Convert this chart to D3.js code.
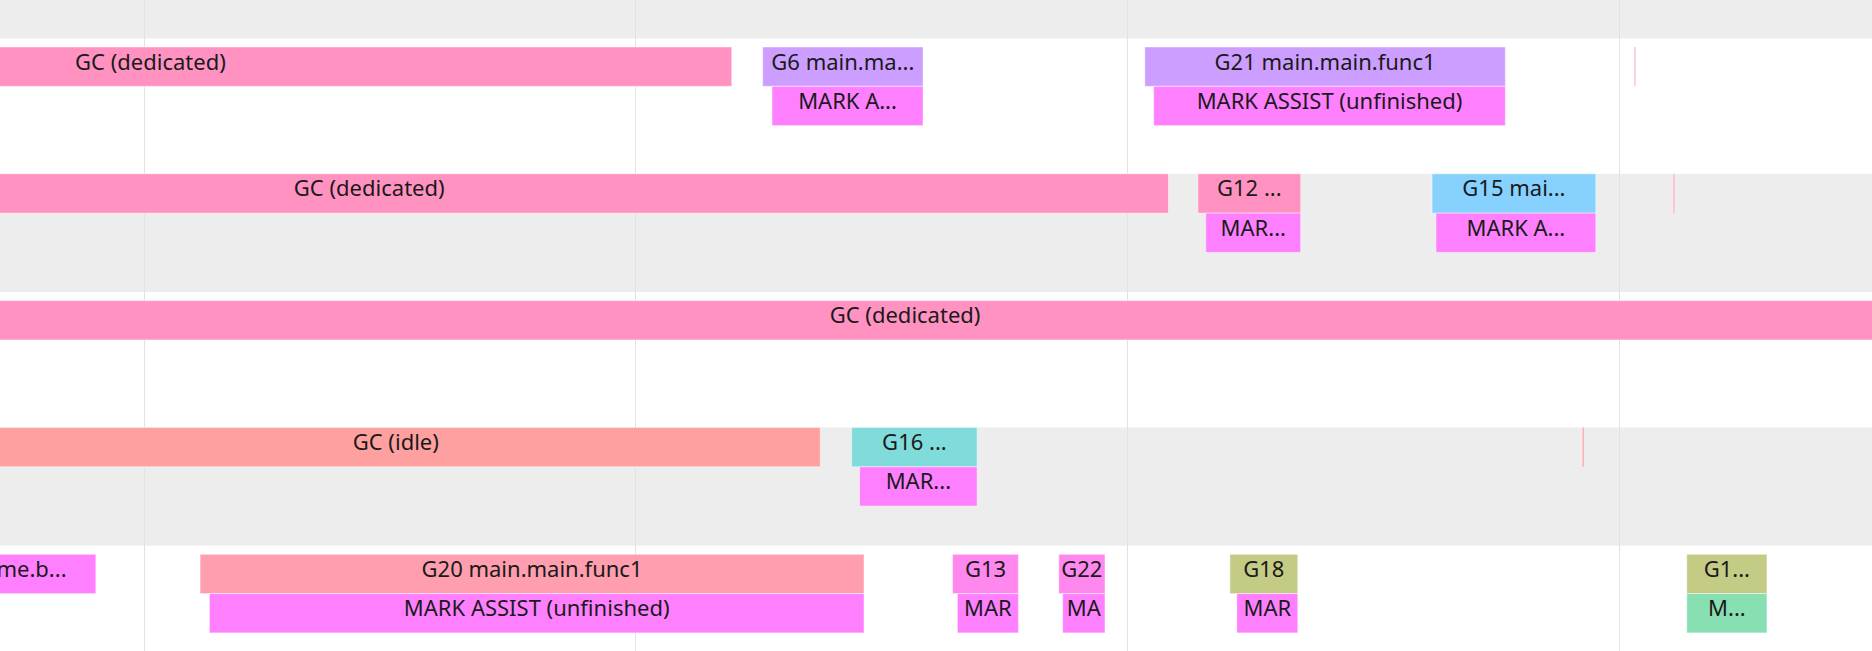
<!DOCTYPE html>
<html>
<head>
<meta charset="utf-8">
<script src="https://cdn.jsdelivr.net/npm/d3@7"></script>
<style>
  html, body { margin: 0; padding: 0; background: #fff; overflow: hidden; }
  text { font-family: "Noto Sans", "Open Sans", sans-serif; }
</style>
</head>
<body>
<svg id="trace" width="1872" height="651"></svg>
<script>
// time in ms (grid lines every 1 ms)
const viewStart = -0.2918;
const viewEnd = 3.5146;
const gridTicks = [0, 1, 2, 3];

const sliceLabels = [
    "GC (dedicated)", "G6 main.ma...", "MARK A...", "G21 main.main.func1", "MARK ASSIST (unfinished)", "",
    "GC (dedicated)", "G12 ...", "MAR...", "G15 mai...", "MARK A...", "",
    "GC (dedicated)",
    "GC (idle)", "G16 ...", "MAR...", "",
    "runtime.b...", "G20 main.main.func1", "MARK ASSIST (unfinished)", "G13", "MAR", "G22", "MA", "G18", "MAR", "G1...", "M..."
];
const sliceLanes = [
    0, 0, 0, 0, 0, 0,
    1, 1, 1, 1, 1, 1,
    2,
    3, 3, 3, 3,
    4, 4, 4, 4, 4, 4, 4, 4, 4, 4, 4
];
const sliceDepths = [
    0, 0, 1, 0, 1, 0,
    0, 0, 1, 0, 1, 0,
    0,
    0, 0, 1, 0,
    0, 0, 1, 0, 1, 0, 1, 0, 1, 0, 1
];
const sliceStarts = [
    -1.168, 1.259, 1.278, 2.036, 2.054, 3.031,
    -1.166, 2.144, 2.160, 2.620, 2.628, 3.110,
    -1.166,
    -0.350, 1.440, 1.456, 2.926,
    -0.460, 0.115, 0.134, 1.645, 1.655, 1.861, 1.869, 2.209, 2.223, 3.138, 3.138
];
const sliceEnds = [
    1.196, 1.585, 1.585, 2.769, 2.769, 3.034,
    2.084, 2.353, 2.353, 2.953, 2.953, 3.114,
    4.263,
    1.376, 1.695, 1.695, 2.929,
    -0.097, 1.465, 1.465, 1.779, 1.779, 1.955, 1.955, 2.347, 2.347, 3.301, 3.301
];
const sliceKinds = [
    "gc", "lavender", "assist", "lavender", "assist", "gcThin",
    "gc", "gc", "assist", "blue", "assist", "gcThin",
    "gc",
    "idle", "teal", "assist", "idleThin",
    "assist", "rose", "assist", "orchid", "assist", "orchid", "assist", "olive", "assist", "olive", "mint"
];

const kindNames = ["gc", "gcThin", "idle", "idleThin", "lavender", "assist", "blue", "teal", "rose", "orchid", "olive", "mint"];
const kindColors = ["#ff92c0", "#ffc4d8", "#ffa0a0", "#ffb0b0", "#cc9eff", "#ff80ff", "#87d1ff", "#80dbdb", "#ff9eae", "#ff88ee", "#c4cb85", "#87dfb2"];

const laneCount = 5;
const shadedLanes = [-1, 1, 3];

const svg = d3.select("#trace");
const width = +svg.attr("width");
const height = +svg.attr("height");

const xScale = d3.scaleLinear().domain([viewStart, viewEnd]).range([0, width]);
const laneY = d3.scaleLinear().domain([0, laneCount - 1]).range([47, 554.3]);
const rowH = 39.3;
const shadeH = 118.2;
const color = d3.scaleOrdinal().domain(kindNames).range(kindColors);

const slices = sliceLabels.map((label, i) => ({
    label: label,
    lane: sliceLanes[i],
    depth: sliceDepths[i],
    start: sliceStarts[i],
    end: sliceEnds[i],
    kind: sliceKinds[i]
}));

// lane backgrounds
svg.append("g").selectAll("rect")
    .data(shadedLanes)
    .join("rect")
    .attr("x", 0)
    .attr("width", width)
    .attr("y", d => laneY(d))
    .attr("height", shadeH)
    .attr("fill", "#ededed");

// grid lines
svg.append("g").selectAll("line")
    .data(gridTicks)
    .join("line")
    .attr("x1", d => Math.round(xScale(d)) + 0.5)
    .attr("x2", d => Math.round(xScale(d)) + 0.5)
    .attr("y1", 0)
    .attr("y2", height)
    .attr("stroke", "#e2e2e2")
    .attr("stroke-width", 1);

const defs = svg.append("defs");
defs.selectAll("clipPath")
    .data(slices)
    .join("clipPath")
    .attr("id", (d, i) => "clip" + i)
    .append("rect")
    .attr("x", d => Math.max(0, xScale(d.start)))
    .attr("y", d => laneY(d.lane) + d.depth * rowH)
    .attr("width", d => Math.max(0, Math.min(width, xScale(d.end)) - Math.max(0, xScale(d.start))))
    .attr("height", rowH);

const g = svg.append("g");

const sliceG = g.selectAll("g.slice")
    .data(slices)
    .join("g")
    .attr("class", "slice");

sliceG.append("rect")
    .attr("x", d => xScale(d.start))
    .attr("y", d => laneY(d.lane) + d.depth * rowH)
    .attr("width", d => Math.max(1.5, xScale(d.end) - xScale(d.start)))
    .attr("height", rowH)
    .attr("fill", d => color(d.kind))
    .attr("stroke", d => d.label ? "rgba(255,255,255,0.45)" : "none")
    .attr("stroke-width", 1);

sliceG.filter(d => d.label)
    .append("text")
    .attr("clip-path", d => "url(#clip" + slices.indexOf(d) + ")")
    .attr("x", d => (xScale(d.start) + xScale(d.end)) / 2)
    .attr("y", d => laneY(d.lane) + d.depth * rowH + 22.5)
    .attr("text-anchor", "middle")
    .attr("font-size", 22)
    .attr("fill", "#1a1a1a")
    .text(d => d.label);
</script>
</body>
</html>
